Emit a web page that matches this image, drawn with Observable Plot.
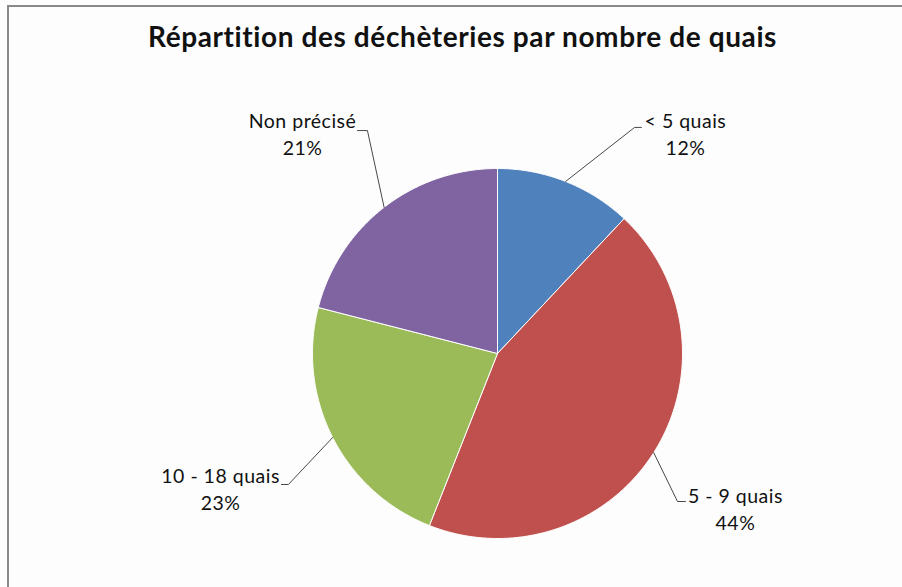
<!DOCTYPE html>
<html>
<head>
<meta charset="utf-8">
<script src="https://cdn.jsdelivr.net/npm/d3@7"></script>
<script src="https://cdn.jsdelivr.net/npm/@observablehq/plot@0.6"></script>
<style>
  html, body { margin: 0; padding: 0; background: #fdfdfd; }
  #wrap { position: relative; width: 902px; height: 587px; overflow: hidden; }
  #border { position: absolute; left: 7px; top: 5px; width: 1000px; height: 1000px;
            border-left: 2px solid #8a8a8a; border-top: 2px solid #8a8a8a; pointer-events: none; }
  svg { font-family: Lato, "Open Sans", sans-serif; }
</style>
</head>
<body>
<div id="wrap"><div id="border"></div></div>
<script>
// ---- data ----
const title = "Répartition des déchèteries par nombre de quais";
const categories = ["< 5 quais", "5 - 9 quais", "10 - 18 quais", "Non précisé"];
const values = [12, 44, 23, 21];
const colors = ["#4F81BD", "#C0504D", "#9BBB59", "#8064A2"];

// ---- label layout (pie-radius units) ----
const labelElbow = [[0.741, 1.222], [0.973, -0.800], [-1.130, -0.708], [-0.703, 1.205]];
const labelEnd   = [[0.778, 1.222], [1.016, -0.800], [-1.168, -0.708], [-0.757, 1.205]];
const labelText  = [[1.016, 1.192], [1.286, -0.832], [-1.497, -0.727], [-1.054, 1.192]];

const total = d3.sum(values);
const pie = d3.pie().sort(null).value(d => d)(values);

// slice outlines (arc geometry sampled from each slice's angles)
const slices = [];
pie.forEach((p, i) => {
  const n = Math.max(8, Math.ceil((p.endAngle - p.startAngle) / 0.01));
  slices.push({cat: categories[i], x: 0, y: 0});
  for (let k = 0; k <= n; k++) {
    const a = p.startAngle + (p.endAngle - p.startAngle) * k / n;
    slices.push({cat: categories[i], x: Math.sin(a), y: Math.cos(a)});
  }
  slices.push({cat: categories[i], x: 0, y: 0});
});

// leader lines
const leaders = [];
pie.forEach((p, i) => {
  const m = (p.startAngle + p.endAngle) / 2;
  leaders.push({cat: categories[i], x: Math.sin(m), y: Math.cos(m)});
  leaders.push({cat: categories[i], x: labelElbow[i][0], y: labelElbow[i][1]});
  leaders.push({cat: categories[i], x: labelEnd[i][0], y: labelEnd[i][1]});
});

const labels = categories.map((c, i) => ({
  text: c + "\n" + Math.round(values[i] / total * 100) + "%",
  x: labelText[i][0], y: labelText[i][1]
}));

const chart = Plot.plot({
  width: 902,
  height: 587,
  margin: 0,
  style: {background: "transparent", overflow: "visible"},
  x: {domain: [-1, 1], range: [312, 682], axis: null},
  y: {domain: [-1, 1], range: [538, 168], axis: null},
  color: {domain: categories, range: colors},
  marks: [
    Plot.line(slices, {x: "x", y: "y", z: "cat", fill: "cat", stroke: "white", strokeWidth: 1, curve: "linear"}),
    Plot.line(leaders, {x: "x", y: "y", z: "cat", stroke: "#333", strokeWidth: 0.9}),
    Plot.text(labels, {x: "x", y: "y", text: "text", fontSize: 19.5, lineHeight: 1.4, fill: "#111", textAnchor: "middle",
      render: (i, s, v, d, c, next) => { const g = next(i, s, v, d, c); g.setAttribute("letter-spacing", "0.5"); return g; }}),
    Plot.text([title], {frameAnchor: "top", text: d => d, dx: 11, dy: 27, fontSize: 28, fontWeight: "bold", fill: "#111",
      render: (i, s, v, d, c, next) => { const g = next(i, s, v, d, c); g.setAttribute("letter-spacing", "0.6"); return g; }})
  ]
});
document.getElementById("wrap").prepend(chart);
</script>
</body>
</html>
